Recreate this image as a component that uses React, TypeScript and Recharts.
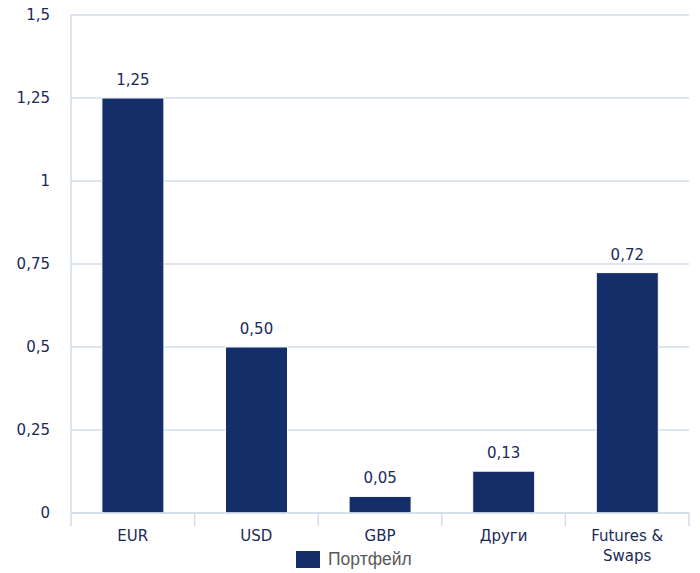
import { BarChart, Bar, XAxis, YAxis, CartesianGrid, Legend, LabelList, Text } from 'recharts';

const categories = ['EUR', 'USD', 'GBP', 'Други', 'Futures & Swaps'];
const portfolio = [1.25, 0.5, 0.05, 0.126, 0.724];
const yTicks = [0, 0.25, 0.5, 0.75, 1, 1.25, 1.5];
const seriesName = 'Портфейл';

const data = categories.map((c, i) => ({ name: c, value: portfolio[i] }));

const W = 700;
const H = 573;
const PLOT_LEFT = 71;
const PLOT_RIGHT = 11;
const BAND = (W - PLOT_LEFT - PLOT_RIGHT) / categories.length;

const NAVY = '#132e69';
const TEXT = '#1b2a57';
const GRID = '#d2dcea';
const FONT = '"DejaVu Sans", Verdana, sans-serif';
const FS = 15;

const comma = (v: number) => String(v).replace('.', ',');

function CategoryTick(props: any) {
  const { x, y, payload, index } = props;
  return (
    <g>
      <line x1={x - BAND / 2} y1={y} x2={x - BAND / 2} y2={y + 13} stroke={GRID} strokeWidth={1.5} />
      {index === categories.length - 1 && (
        <line x1={x + BAND / 2} y1={y} x2={x + BAND / 2} y2={y + 13} stroke={GRID} strokeWidth={1.5} />
      )}
      <Text
        x={x}
        y={y + 17}
        width={100}
        textAnchor="middle"
        verticalAnchor="start"
        lineHeight={20}
        fill={TEXT}
        fontSize={FS}
        fontFamily={FONT}
      >
        {payload.value}
      </Text>
    </g>
  );
}

function LegendBox() {
  return (
    <div style={{ display: 'flex', alignItems: 'center', paddingLeft: 296, fontFamily: '"Liberation Sans", Arial, sans-serif' }}>
      <span style={{ display: 'inline-block', width: 24, height: 17, background: NAVY, marginRight: 8 }} />
      <span style={{ color: '#595959', fontSize: 17.5, lineHeight: '17px' }}>{seriesName}</span>
    </div>
  );
}

export default function App() {
  return (
    <div style={{ position: 'absolute', left: 0, top: 0, background: '#fff' }}>
      <BarChart
        width={W}
        height={H}
        data={data}
        margin={{ top: 15, right: PLOT_RIGHT, left: 0, bottom: 3 }}
        barCategoryGap="25%"
      >
        <CartesianGrid vertical={false} stroke={GRID} strokeWidth={1.5} />
        <XAxis
          dataKey="name"
          axisLine={{ stroke: GRID, strokeWidth: 1.5 }}
          tickLine={false}
          tickSize={0}
          tickMargin={0}
          height={35}
          interval={0}
          tick={<CategoryTick />}
        />
        <YAxis
          width={PLOT_LEFT}
          domain={[0, 1.5]}
          ticks={yTicks}
          tickFormatter={comma}
          axisLine={{ stroke: GRID, strokeWidth: 1.5 }}
          tickLine={false}
          tickMargin={15}
          tick={{ fill: TEXT, fontSize: FS, fontFamily: FONT }}
        />
        <Legend
          verticalAlign="bottom"
          height={22}
          content={<LegendBox />}
          wrapperStyle={{ top: 551, left: 0, width: W }}
        />
        <Bar dataKey="value" name={seriesName} fill={NAVY} stroke="#ffffff" strokeWidth={1} isAnimationActive={false}>
          <LabelList
            dataKey="value"
            position="top"
            offset={13}
            formatter={(v: number) => v.toFixed(2).replace('.', ',')}
            fill={TEXT}
            fontSize={FS}
            fontFamily={FONT}
          />
        </Bar>
      </BarChart>
    </div>
  );
}
